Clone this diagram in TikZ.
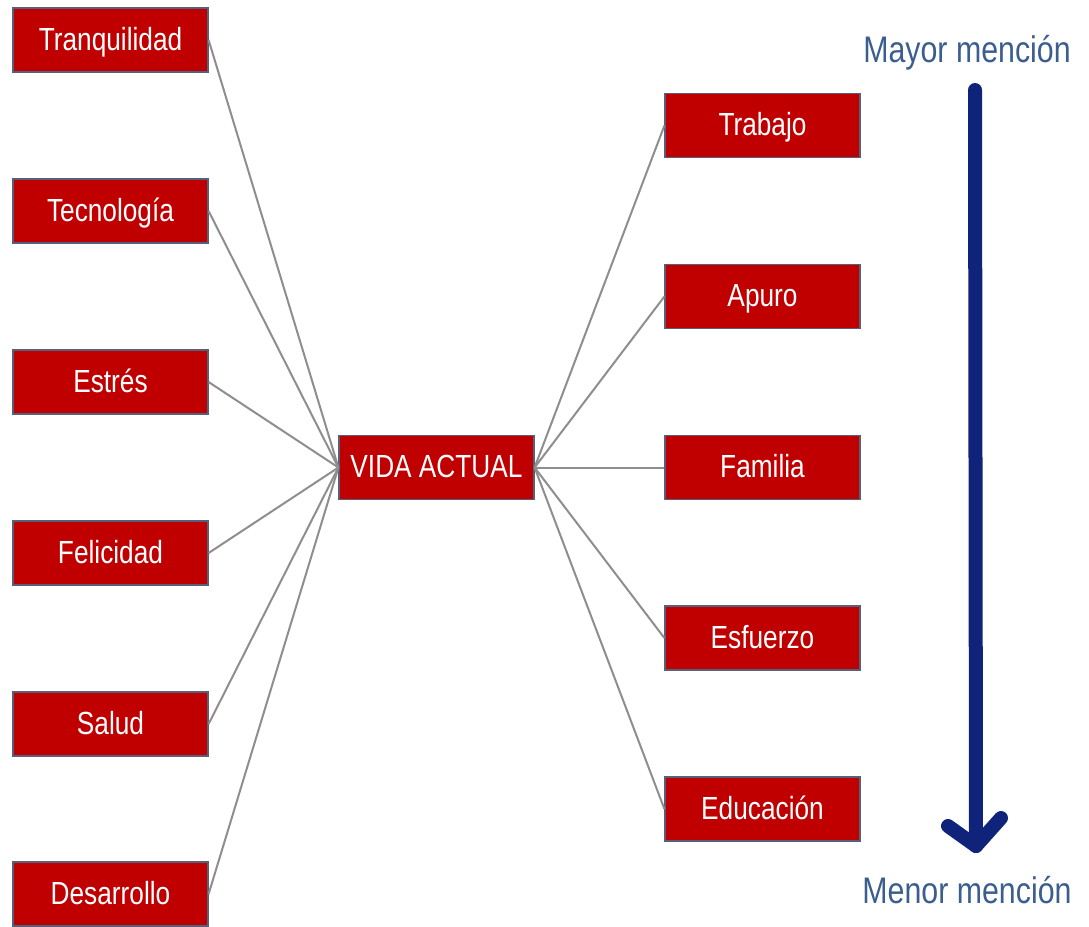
\documentclass[tikz,border=0pt]{standalone}
\usepackage{fontspec}
\setmainfont{Liberation Sans}
\newfontfamily\narrowsans[FakeStretch=0.82]{Liberation Sans}
\definecolor{boxred}{HTML}{C00000}
\definecolor{boxedge}{HTML}{55607A}
\definecolor{linkgray}{HTML}{8E8E8E}
\definecolor{arrowblue}{HTML}{10237A}
\definecolor{labelblue}{HTML}{3B5E8F}
\begin{document}
\begin{tikzpicture}[x=1pt,y=-1pt,
  redbox/.style={draw=boxedge,line width=1.2pt,fill=boxred,text=white,
    minimum width=195pt,minimum height=64pt,inner sep=0pt,
    text height=23pt,text depth=3pt,
    font=\narrowsans\fontsize{32}{36}\selectfont},
  link/.style={draw=linkgray,line width=2pt},
  scalelabel/.style={text=labelblue,font=\narrowsans\fontsize{37}{40}\selectfont,inner sep=0pt,anchor=base}]
\useasboundingbox (0,0) rectangle (1089,926);
% left boxes
\node[redbox] (tranq) at (110.5,40) {Tranquilidad};
\node[redbox] (tecno) at (110.5,211) {Tecnología};
\node[redbox] (estres) at (110.5,382) {Estrés};
\node[redbox] (feli) at (110.5,553) {Felicidad};
\node[redbox] (salud) at (110.5,724) {Salud};
\node[redbox] (desa) at (110.5,894) {Desarrollo};
% center
\node[redbox] (vida) at (436.5,467.5) {VIDA ACTUAL};
% right boxes
\node[redbox] (trab) at (762.5,125.5) {Trabajo};
\node[redbox] (apuro) at (762.5,296.5) {Apuro};
\node[redbox] (fam) at (762.5,467.5) {Familia};
\node[redbox] (esf) at (762.5,638) {Esfuerzo};
\node[redbox] (edu) at (762.5,809) {Educación};
% connectors
\foreach \n in {tranq,tecno,estres,feli,salud,desa}
  \draw[link] (\n.east) -- (vida.west);
\foreach \n in {trab,apuro,fam,esf,edu}
  \draw[link] (vida.east) -- (\n.west);
% scale
\node[scalelabel] (mayor) at (967,62) {Mayor mención};
\node[scalelabel] (menor) at (967,903) {Menor mención};
\coordinate (atop) at (975,90);
\coordinate (abot) at (976,846);
\coordinate (hl) at (948,826);
\coordinate (hr) at (1001,818);
\draw[arrowblue,line width=14pt,line cap=round] (atop) -- (abot);
\draw[arrowblue,line width=14pt,line cap=round,line join=round] (hl) -- (abot) -- (hr);
\end{tikzpicture}
\end{document}
